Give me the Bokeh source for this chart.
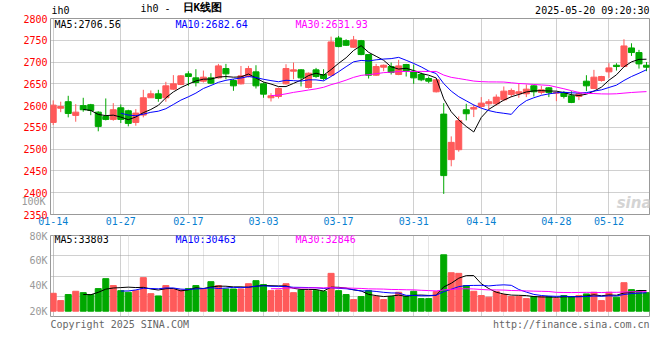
from bokeh.plotting import figure
from bokeh.models import Range1d, FixedTicker, Label, ColumnDataSource, Grid, LinearAxis
from bokeh.layouts import column
from bokeh.embed import file_html
from bokeh.resources import INLINE

# ---------------- data ----------------
dates = ["01-14", "01-15", "01-16", "01-17", "01-20", "01-21", "01-22", "01-23", "01-24", "01-27",
         "02-05", "02-06", "02-07", "02-10", "02-11", "02-12", "02-13", "02-14", "02-17", "02-18",
         "02-19", "02-20", "02-21", "02-24", "02-25", "02-26", "02-27", "02-28",
         "03-03", "03-04", "03-05", "03-06", "03-07", "03-10", "03-11", "03-12", "03-13", "03-14",
         "03-17", "03-18", "03-19", "03-20", "03-21", "03-24", "03-25", "03-26", "03-27", "03-28", "03-31",
         "04-01", "04-02", "04-03", "04-07", "04-08", "04-09", "04-10", "04-11", "04-14", "04-15",
         "04-16", "04-17", "04-18", "04-21", "04-22", "04-23", "04-24", "04-25", "04-28", "04-29", "04-30",
         "05-06", "05-07", "05-08", "05-09", "05-12", "05-13", "05-14", "05-15", "05-16", "05-19"]

opens = [2561.4, 2594.0, 2609.0, 2577.5, 2600.0, 2602.0, 2585.0, 2575.0, 2568.3, 2595.0,
         2588.2, 2561.4, 2578.2, 2618.0, 2627.1, 2618.0, 2637.8, 2648.5, 2672.9, 2663.7,
         2656.1, 2663.7, 2663.7, 2685.0, 2657.6, 2650.0, 2666.8, 2677.5, 2650.0, 2618.0,
         2621.0, 2650.0, 2679.0, 2682.1, 2641.6, 2682.1, 2671.4, 2669.8, 2755.3, 2749.2,
         2734.0, 2749.2, 2717.2, 2669.8, 2688.2, 2689.7, 2671.4, 2694.3, 2679.0, 2671.4,
         2662.2, 2631.7, 2580.5, 2476.0, 2498.8, 2590.5, 2592.0, 2598.1, 2604.2, 2604.2,
         2613.4, 2625.6, 2627.1, 2627.1, 2645.4, 2630.2, 2640.8, 2628.6, 2630.2, 2622.5,
         2621.0, 2656.1, 2639.3, 2657.6, 2677.5, 2692.7, 2689.7, 2732.4, 2721.8, 2692.7]
highs = [2612.0, 2609.0, 2622.5, 2603.4, 2618.0, 2604.0, 2587.0, 2616.4, 2605.7, 2602.7,
         2590.5, 2592.0, 2636.3, 2634.7, 2636.3, 2654.6, 2670.0, 2670.0, 2679.0, 2683.6,
         2680.5, 2674.4, 2695.8, 2695.8, 2660.7, 2691.0, 2691.2, 2692.7, 2653.0, 2628.6,
         2641.6, 2695.0, 2698.9, 2683.6, 2676.0, 2686.6, 2683.6, 2758.4, 2759.9, 2752.3,
         2759.9, 2750.8, 2718.0, 2695.8, 2694.3, 2698.9, 2705.0, 2695.8, 2694.3, 2676.0,
         2666.8, 2660.7, 2605.7, 2529.4, 2575.2, 2604.2, 2602.7, 2619.5, 2614.9, 2625.6,
         2643.9, 2639.3, 2651.5, 2648.5, 2646.9, 2645.4, 2642.4, 2631.7, 2633.2, 2633.2,
         2631.7, 2669.8, 2682.1, 2668.3, 2697.3, 2697.3, 2752.3, 2743.1, 2727.9, 2700.0]
lows = [2555.3, 2585.0, 2573.0, 2563.0, 2586.0, 2578.0, 2541.0, 2566.0, 2565.3, 2560.0,
        2552.3, 2553.8, 2573.0, 2618.0, 2608.8, 2608.8, 2636.3, 2647.0, 2645.4, 2644.0,
        2653.0, 2649.2, 2662.2, 2660.7, 2634.0, 2648.5, 2664.5, 2639.3, 2618.0, 2609.5,
        2616.4, 2648.5, 2660.7, 2644.0, 2639.3, 2663.7, 2657.6, 2668.3, 2734.0, 2737.0,
        2732.4, 2715.7, 2662.2, 2668.3, 2679.0, 2671.4, 2669.8, 2666.8, 2650.0, 2656.1,
        2651.5, 2630.2, 2397.3, 2460.7, 2494.2, 2566.0, 2573.7, 2595.0, 2592.0, 2599.6,
        2610.3, 2619.5, 2618.0, 2619.5, 2621.0, 2625.6, 2619.5, 2610.3, 2616.4, 2605.7,
        2612.6, 2633.2, 2639.3, 2655.0, 2663.7, 2680.5, 2688.2, 2714.1, 2685.0, 2679.0]
closes = [2601.1, 2598.0, 2582.0, 2585.0, 2590.5, 2589.0, 2552.3, 2568.3, 2590.5, 2568.3,
          2559.2, 2582.8, 2618.0, 2627.1, 2616.4, 2645.4, 2650.0, 2668.3, 2666.8, 2653.0,
          2665.3, 2651.5, 2691.2, 2672.9, 2645.4, 2668.3, 2685.1, 2645.4, 2626.3, 2622.5,
          2639.3, 2685.1, 2682.1, 2663.7, 2674.4, 2666.8, 2662.2, 2746.2, 2735.5, 2738.5,
          2750.8, 2717.2, 2669.8, 2689.7, 2692.7, 2676.0, 2691.2, 2679.0, 2663.7, 2659.2,
          2656.1, 2659.2, 2439.3, 2515.6, 2565.3, 2581.3, 2595.8, 2605.7, 2608.8, 2619.5,
          2633.2, 2634.7, 2631.7, 2637.8, 2631.7, 2636.3, 2630.2, 2630.2, 2621.0, 2607.3,
          2627.1, 2645.4, 2665.3, 2666.8, 2686.6, 2689.7, 2737.0, 2721.8, 2695.8, 2688.2]
volumes = [34200, 28400, 33200, 35800, 34700, 33200, 37900, 45800, 40300, 36300,
           35000, 36300, 46600, 33900, 32100, 40300, 37400, 36800, 37900, 40300,
           37400, 43400, 40300, 37600, 37600, 37600, 41800, 44200, 41100, 36300,
           36800, 41800, 34700, 36800, 36300, 36300, 35800, 50000, 36300, 33200,
           29200, 31600, 36300, 31600, 29200, 31600, 35000, 31600, 35800, 30000,
           30000, 35500, 64700, 50500, 50000, 40300, 35800, 32400, 31100, 35500,
           33200, 31600, 31600, 30000, 31600, 31600, 31600, 30000, 32400, 31600,
           32400, 33700, 35000, 28400, 35000, 31100, 42600, 37100, 36300, 34700]

tick_dates = ["01-14", "01-27", "02-17", "03-03", "03-17", "03-31", "04-14", "04-28", "05-12"]
price_ticks = [2350, 2400, 2450, 2500, 2550, 2600, 2650, 2700, 2750, 2800]
vol_ticks = [20000, 40000, 60000, 80000]
vol_tick_labels = ["20K", "40K", "60K", "80K"]
vol_overflow_tick = 100000
vol_overflow_label = "100K"
vol_base = 20000

title_code = "ih0"
title_text = "ih0 -"
title_cjk = "日K线图"
stamp = "2025-05-20 09:20:30"
price_ma_texts = ["MA5:2706.56", "MA10:2682.64", "MA30:2631.93"]
vol_ma_texts = ["MA5:33803", "MA10:30463", "MA30:32846"]
footer_left = "Copyright 2025 SINA.COM"
footer_right = "http://finance.sina.com.cn"

# ---------------- helpers ----------------
def moving_avg(vals, n):
    out = []
    for i in range(len(vals)):
        if i < n - 1:
            out.append(float("nan"))
        else:
            out.append(sum(vals[i - n + 1:i + 1]) / n)
    return out


RED = "#ff5a5a"
GREEN = "#00a800"
MA_COLORS = ["#000000", "#0000ff", "#ff00ff"]
MONO = "DejaVu Sans Mono"
GRID = "#a0a0a0"
DASH = "1 1"
W = 660
BL, BR = 50, 11          # left / right borders shared by every row

idx = list(range(len(dates)))
colors = [RED if c >= o else GREEN for o, c in zip(opens, closes)]
src = ColumnDataSource(dict(
    x=idx, open=opens, high=highs, low=lows, close=closes,
    top=[max(o, c) for o, c in zip(opens, closes)],
    bottom=[min(o, c) for o, c in zip(opens, closes)],
    vol=volumes, color=colors,
    ma5=moving_avg(closes, 5), ma10=moving_avg(closes, 10), ma30=moving_avg(closes, 30),
    vma5=moving_avg(volumes, 5), vma10=moving_avg(volumes, 10), vma30=moving_avg(volumes, 30),
))

tick_idx = [dates.index(d) for d in tick_dates]
xr = Range1d(-0.36, 79.40)


def style_axis(ax, color, standoff):
    ax.major_label_text_color = color
    ax.major_label_text_font = MONO
    ax.major_label_text_font_size = "10px"
    ax.major_label_standoff = standoff
    ax.major_tick_line_color = None
    ax.minor_tick_line_color = None
    ax.major_tick_out = 0
    ax.major_tick_in = 0
    ax.minor_tick_out = 0
    ax.minor_tick_in = 0
    ax.axis_line_color = None


def lab(fig, x, y, text, color="#000000", align="left", size="10px", font=MONO, style="normal"):
    fig.add_layout(Label(x=x, y=y, x_units="screen", y_units="screen", text=text,
                         text_color=color, text_align=align, text_baseline="middle",
                         text_font=font, text_font_size=size, text_font_style=style))


def blank_strip(height):
    f = figure(width=W, height=height, x_range=Range1d(0, 1), y_range=Range1d(0, 1),
               output_backend="svg", toolbar_location=None,
               x_axis_location=None, y_axis_location=None,
               min_border_left=BL, min_border_right=BR, min_border_top=0, min_border_bottom=0)
    f.outline_line_color = None
    f.grid.visible = False
    f.background_fill_color = "white"
    f.border_fill_color = "white"
    return f


# ---------------- header strip ----------------
H_HEAD = 14
head = blank_strip(H_HEAD)
lab(head, 1, 4.5, title_code)
lab(head, 90, 6, title_text)
lab(head, 132, 7, title_cjk, size="11px", style="bold")
lab(head, 599, 4.5, stamp, align="right")

# ---------------- price figure ----------------
p = figure(width=W, height=216, x_range=xr, y_range=Range1d(price_ticks[0], price_ticks[-1]),
           output_backend="svg", toolbar_location=None,
           min_border_left=BL, min_border_right=BR, min_border_top=4, min_border_bottom=16)
p.background_fill_color = "white"
p.border_fill_color = "white"
p.outline_line_color = "#999999"

p.segment(x0="x", y0="low", x1="x", y1="high", color="color", line_width=1, source=src)
p.vbar(x="x", width=0.8, top="top", bottom="bottom", fill_color="color", line_color="color", source=src)
for key, col in zip(["ma5", "ma10", "ma30"], MA_COLORS):
    p.line("x", key, color=col, line_width=1, source=src)

p.yaxis.ticker = FixedTicker(ticks=price_ticks)
style_axis(p.yaxis, "#ff0000", 3)

p.xaxis.ticker = FixedTicker(ticks=tick_idx)
p.xaxis.major_label_overrides = {i: d for i, d in zip(tick_idx, tick_dates)}
style_axis(p.xaxis, "#0a7fd0", 2)
p.xaxis.axis_line_color = "#999999"

for g in (p.xgrid, p.ygrid):
    g.grid_line_color = GRID
    g.grid_line_dash = DASH

# the volume scale's top label spills into the price panel's margin
p.extra_y_ranges = {"volx": Range1d(vol_overflow_tick - 13300, vol_overflow_tick - 13300 + 196000)}
ax2 = LinearAxis(y_range_name="volx", ticker=FixedTicker(ticks=[vol_overflow_tick]),
                 major_label_overrides={vol_overflow_tick: vol_overflow_label})
style_axis(ax2, "#999999", -25)
p.add_layout(ax2, "left")

for t, xx, col in zip(price_ma_texts, [4, 125, 245], MA_COLORS):
    lab(p, xx, 190, t, color=col)
lab(p, 601, 12, "sina", color="#d4d4d4", align="right", size="15px",
    font="DejaVu Sans", style="bold italic")

# ---------------- volume figure ----------------
v = figure(width=W, height=87, x_range=xr, y_range=Range1d(15800, 80000),
           output_backend="svg", toolbar_location=None, x_axis_location=None,
           min_border_left=BL, min_border_right=BR, min_border_top=5, min_border_bottom=1)
v.background_fill_color = "white"
v.border_fill_color = "white"
v.outline_line_color = "#999999"

v.vbar(x="x", width=0.8, top="vol", bottom=vol_base, fill_color="color", line_color="color", source=src)
for key, col in zip(["vma5", "vma10", "vma30"], MA_COLORS):
    v.line("x", key, color=col, line_width=1, source=src)

v.yaxis.ticker = FixedTicker(ticks=vol_ticks)
v.yaxis.major_label_overrides = {t: s for t, s in zip(vol_ticks, vol_tick_labels)}
style_axis(v.yaxis, "#999999", 3)

ys, ye = v.y_range.start, v.y_range.end
v.ygrid.ticker = FixedTicker(ticks=[ys + (ye - ys) * k / 4 for k in (1, 2, 3)])
v.ygrid.grid_line_color = GRID
v.ygrid.grid_line_dash = DASH
vg = Grid(dimension=0, ticker=FixedTicker(ticks=tick_idx), grid_line_color=GRID, grid_line_dash=DASH)
v.add_layout(vg)

for t, xx, col in zip(vol_ma_texts, [4, 125, 245], MA_COLORS):
    lab(v, xx, 77, t, color=col)

# ---------------- footer strip ----------------
H_FOOT = 19
foot = blank_strip(H_FOOT)
lab(foot, 0, H_FOOT - 6.7, footer_left, color="#666666")
lab(foot, 599, H_FOOT - 6.7, footer_right, color="#666666", align="right")

layout = column(head, p, v, foot, spacing=0)
open("out.html", "w").write(file_html(layout, INLINE))
